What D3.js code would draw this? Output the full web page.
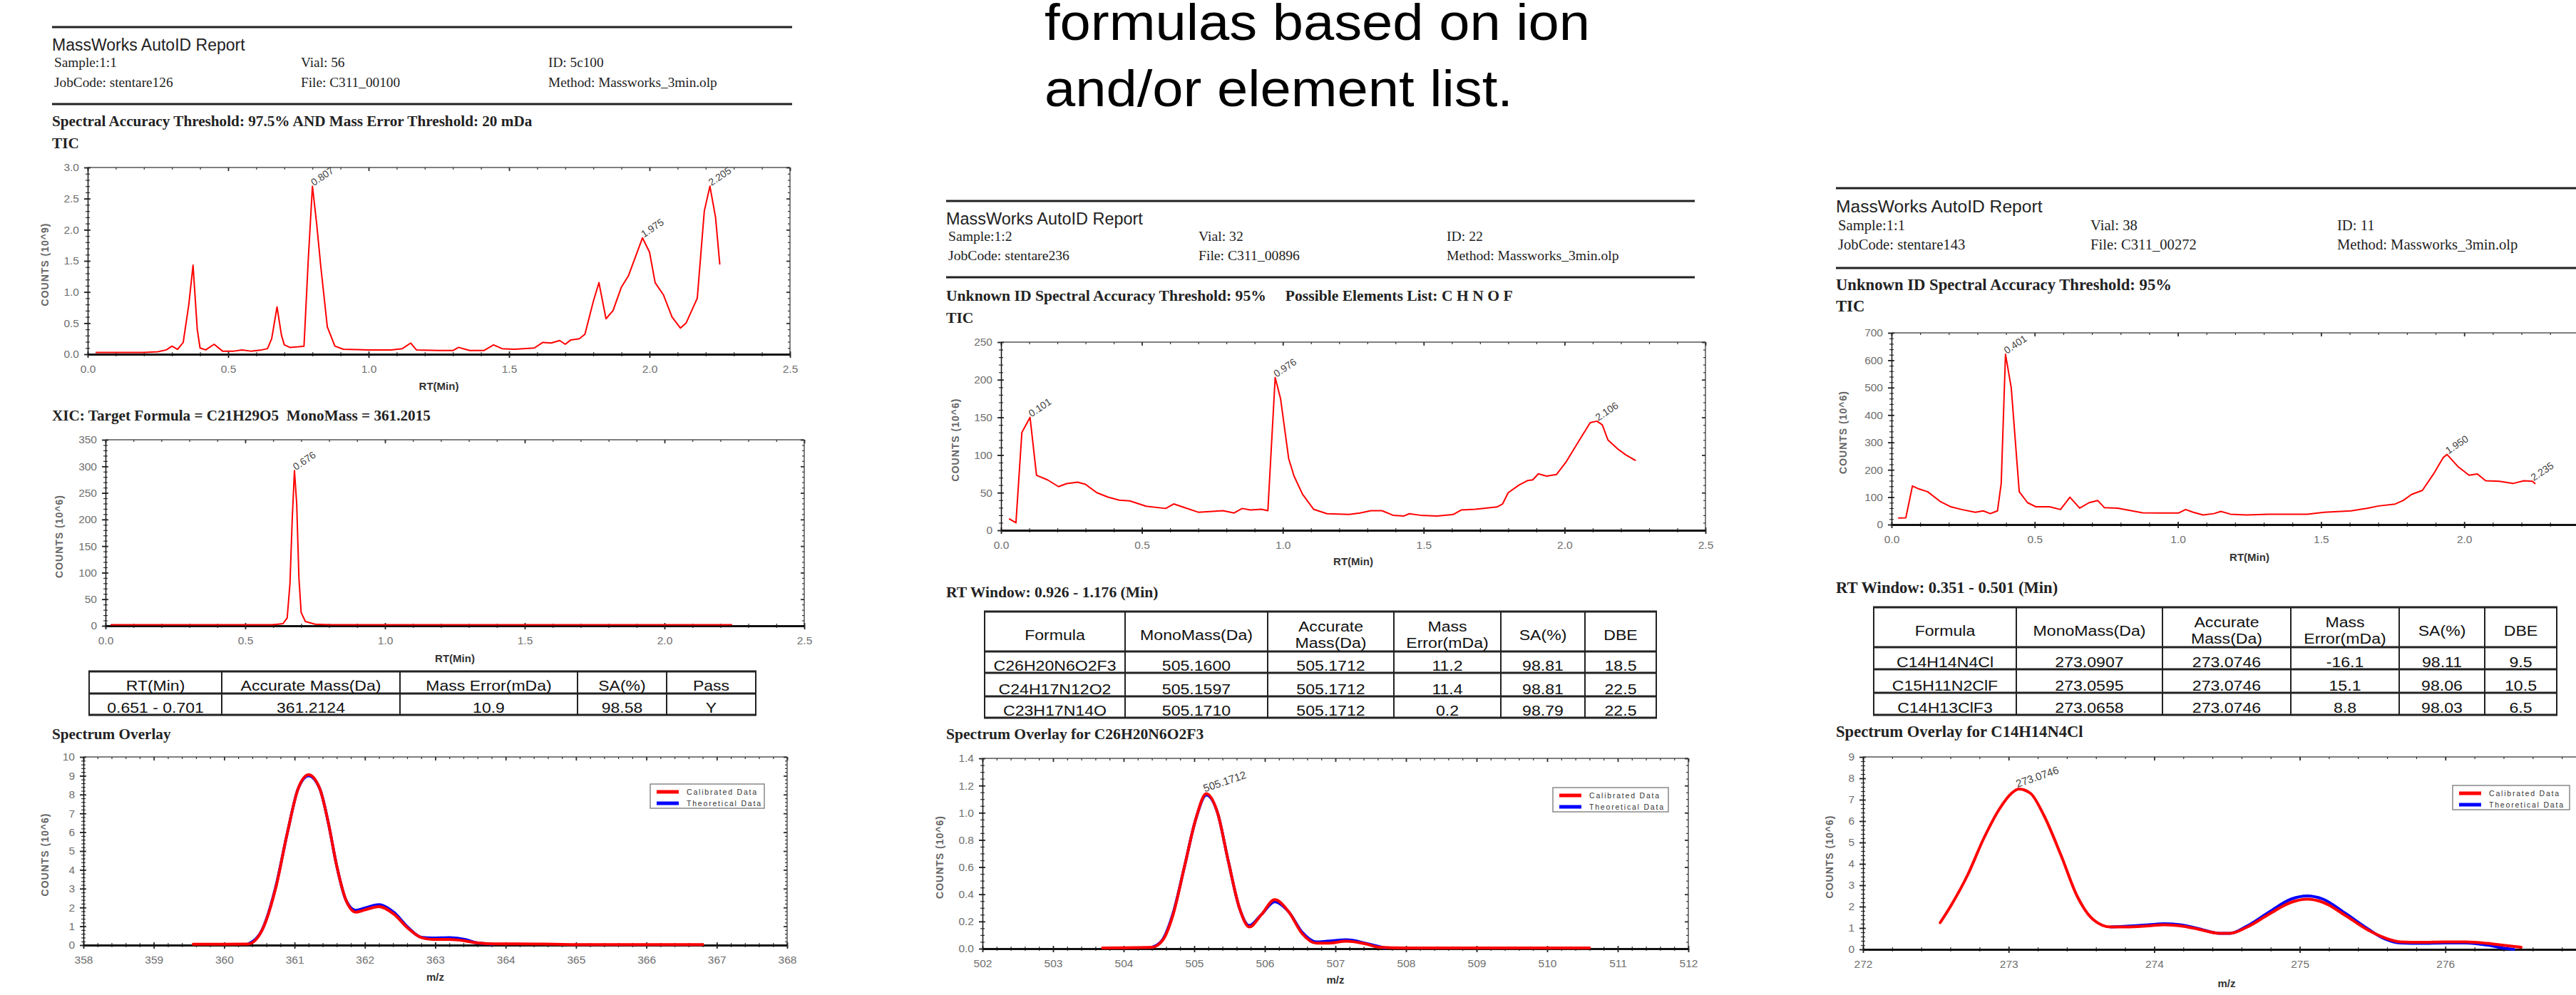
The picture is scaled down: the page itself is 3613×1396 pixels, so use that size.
<!DOCTYPE html>
<html lang="en">
<head>
<meta charset="utf-8">
<script src="https://d3js.org/d3.v7.min.js"></script>
<style>
  body { margin: 0; background: #fff; }
  svg { display: block; }
</style>
</head>
<body>
<div id="graph"></div>
<script>

// ---------- values ----------

// left report: TIC (RT min, counts 10^9)
const ticLeft = [[0.03,0.03],[0.10,0.03],[0.20,0.03],[0.25,0.04],[0.28,0.07],[0.30,0.13],[0.32,0.08],[0.34,0.19],
  [0.36,0.8],[0.375,1.43],[0.39,0.4],[0.40,0.1],[0.42,0.07],[0.45,0.16],[0.48,0.05],[0.52,0.05],[0.55,0.07],
  [0.58,0.05],[0.62,0.07],[0.64,0.09],[0.655,0.25],[0.674,0.76],[0.69,0.3],[0.70,0.15],[0.72,0.11],[0.75,0.12],
  [0.77,0.13],[0.785,1.5],[0.80,2.7],[0.815,2.1],[0.83,1.4],[0.853,0.44],[0.88,0.13],[0.91,0.08],[1.0,0.07],
  [1.08,0.07],[1.12,0.09],[1.15,0.18],[1.17,0.07],[1.25,0.06],[1.30,0.06],[1.32,0.11],[1.36,0.06],[1.41,0.06],
  [1.445,0.15],[1.475,0.09],[1.52,0.08],[1.59,0.1],[1.62,0.19],[1.65,0.18],[1.68,0.22],[1.70,0.16],[1.72,0.23],
  [1.75,0.25],[1.77,0.32],[1.80,0.85],[1.82,1.15],[1.845,0.57],[1.87,0.7],[1.90,1.08],[1.925,1.26],[1.975,1.87],
  [2.0,1.64],[2.02,1.15],[2.05,0.95],[2.08,0.6],[2.11,0.42],[2.13,0.5],[2.17,0.9],[2.195,2.3],[2.215,2.7],
  [2.235,2.2],[2.25,1.45]];
const ticLeftPeaks = [[0.80,2.7,"0.807"],[1.975,1.87,"1.975"],[2.215,2.7,"2.205"]];

// left report: XIC (RT min, counts 10^6)
const xicLeft = [[0.02,2],[0.3,2],[0.6,2],[0.635,4],[0.65,15],[0.66,80],[0.668,200],[0.676,292],[0.684,230],
  [0.692,90],[0.70,25],[0.715,8],[0.75,3],[0.8,2],[1.5,2],[2.24,2]];
const xicLeftPeaks = [[0.676,292,"0.676"]];

// left report: results table
const tableLeftHead = [["RT(Min)"],["Accurate Mass(Da)"],["Mass Error(mDa)"],["SA(%)"],["Pass"]];
const tableLeftRows = [["0.651 - 0.701","361.2124","10.9","98.58","Y"]];

// left report: spectrum overlay (m/z, counts 10^6)
const specLeftCal = [[359.56,0.05],[360.0,0.05],[360.34,0.06],[360.54,0.8],[360.73,3.0],[360.9,6.0],[361.05,8.3],
  [361.2,9.05],[361.36,8.3],[361.48,6.5],[361.6,4.2],[361.73,2.4],[361.87,1.75],[361.98,1.85],[362.2,2.05],
  [362.41,1.65],[362.61,0.9],[362.8,0.4],[362.96,0.3],[363.2,0.3],[363.43,0.22],[363.59,0.12],[363.82,0.07],
  [364.45,0.06],[365.0,0.03],[366.0,0.03],[366.8,0.03]];
const specLeftTheo = [[360.34,0.06],[360.54,0.82],[360.73,3.05],[360.9,6.0],[361.05,8.3],[361.2,9.0],[361.36,8.3],
  [361.48,6.5],[361.6,4.2],[361.73,2.4],[361.87,1.85],[361.98,1.95],[362.2,2.15],[362.41,1.75],[362.61,0.95],
  [362.8,0.42],[362.96,0.38],[363.2,0.4],[363.43,0.3],[363.59,0.12],[363.82,0.05]];

// middle report: TIC
const ticMid = [[0.03,15],[0.053,10],[0.074,130],[0.103,150],[0.126,73],[0.165,67],[0.204,58],[0.233,62],[0.272,64],
  [0.30,61],[0.34,50],[0.38,44],[0.42,40],[0.457,39],[0.515,32],[0.584,29],[0.613,35],[0.652,30],[0.70,24],
  [0.749,25],[0.788,26],[0.827,23],[0.856,29],[0.885,27],[0.924,28],[0.947,26],[0.973,203],[0.992,175],
  [1.021,95],[1.04,72],[1.07,48],[1.109,28],[1.157,22],[1.235,21],[1.274,23],[1.313,26],[1.352,26],[1.391,20],
  [1.43,19],[1.449,22],[1.488,20],[1.547,19],[1.605,21],[1.634,27],[1.683,28],[1.76,31],[1.78,35],[1.80,50],
  [1.838,60],[1.868,66],[1.887,67],[1.907,75],[1.936,72],[1.971,74],[2.004,90],[2.053,120],[2.091,143],
  [2.115,145],[2.134,140],[2.154,120],[2.189,108],[2.218,100],[2.251,93]];
const ticMidPeaks = [[0.103,150,"0.101"],[0.973,203,"0.976"],[2.115,145,"2.106"]];

const tableMidHead = [["Formula"],["MonoMass(Da)"],["Accurate","Mass(Da)"],["Mass","Error(mDa)"],["SA(%)"],["DBE"]];
const tableMidRows = [
  ["C26H20N6O2F3","505.1600","505.1712","11.2","98.81","18.5"],
  ["C24H17N12O2","505.1597","505.1712","11.4","98.81","22.5"],
  ["C23H17N14O","505.1710","505.1712","0.2","98.79","22.5"]];

const specMidCal = [[503.7,0.005],[504.4,0.01],[504.55,0.06],[504.7,0.25],[504.86,0.6],[505.02,0.95],[505.17,1.14],
  [505.33,1.0],[505.48,0.65],[505.64,0.3],[505.78,0.16],[505.95,0.25],[506.14,0.36],[506.34,0.27],[506.53,0.11],
  [506.73,0.04],[506.88,0.04],[507.16,0.055],[507.43,0.035],[507.62,0.01],[508.0,0.005],[509.0,0.005],[510.6,0.005]];
const specMidTheo = [[504.4,0.01],[504.55,0.065],[504.7,0.26],[504.86,0.6],[505.02,0.95],[505.17,1.13],[505.33,1.0],
  [505.48,0.65],[505.64,0.3],[505.78,0.17],[505.95,0.25],[506.14,0.345],[506.34,0.27],[506.53,0.12],[506.73,0.05],
  [506.88,0.055],[507.16,0.065],[507.43,0.04],[507.7,0.005]];
const specMidPeaks = [[505.17,1.14,"505.1712"]];

// right report: TIC
const ticRight = [[0.025,24],[0.05,25],[0.073,141],[0.096,130],[0.126,120],[0.169,85],[0.207,65],[0.245,55],
  [0.293,45],[0.32,50],[0.345,40],[0.37,50],[0.383,150],[0.398,622],[0.418,500],[0.446,120],[0.475,80],
  [0.504,65],[0.552,65],[0.59,55],[0.623,100],[0.657,60],[0.69,80],[0.72,88],[0.743,62],[0.79,60],[0.83,52],
  [0.877,43],[0.935,42],[1.002,42],[1.027,55],[1.054,45],[1.088,35],[1.126,40],[1.15,48],[1.184,38],[1.24,35],
  [1.318,38],[1.452,38],[1.51,45],[1.605,50],[1.663,60],[1.701,68],[1.759,75],[1.787,88],[1.816,110],
  [1.854,125],[1.893,185],[1.927,245],[1.94,256],[1.98,210],[2.017,180],[2.046,185],[2.075,160],[2.123,158],
  [2.17,150],[2.209,160],[2.238,158],[2.247,150]];
const ticRightPeaks = [[0.398,622,"0.401"],[1.94,256,"1.950"],[2.238,158,"2.235"]];

const tableRightHead = tableMidHead;
const tableRightRows = [
  ["C14H14N4Cl","273.0907","273.0746","-16.1","98.11","9.5"],
  ["C15H11N2ClF","273.0595","273.0746","15.1","98.06","10.5"],
  ["C14H13ClF3","273.0658","273.0746","8.8","98.03","6.5"]];

const specRightCal = [[272.53,1.25],[272.6,2.0],[272.72,3.5],[272.83,5.2],[272.94,6.6],[273.02,7.3],[273.07,7.5],
  [273.15,7.3],[273.24,6.3],[273.36,4.4],[273.47,2.5],[273.58,1.4],[273.7,1.05],[273.81,1.05],[273.96,1.1],
  [274.07,1.15],[274.18,1.1],[274.3,0.95],[274.45,0.75],[274.52,0.75],[274.64,1.05],[274.79,1.65],[274.94,2.2],
  [275.05,2.35],[275.16,2.2],[275.31,1.6],[275.47,0.9],[275.58,0.55],[275.69,0.35],[275.84,0.33],[275.99,0.35],
  [276.14,0.35],[276.29,0.28],[276.41,0.18],[276.52,0.1]];
const specRightTheo = [[273.7,1.05],[273.81,1.08],[273.96,1.15],[274.07,1.2],[274.18,1.15],[274.3,0.98],[274.45,0.75],
  [274.52,0.75],[274.64,1.1],[274.79,1.75],[274.94,2.35],[275.05,2.5],[275.16,2.35],[275.31,1.7],[275.47,0.95],
  [275.58,0.5],[275.69,0.3],[275.84,0.28],[275.99,0.3],[276.14,0.3],[276.29,0.2],[276.41,0.05],[276.47,0.0]];
const specRightPeaks = [[273.07,7.5,"273.0746"]];

// report header texts
const infoLeft  = ["Sample:1:1","Vial: 56","ID: 5c100","JobCode: stentare126","File: C311_00100","Method: Massworks_3min.olp"];
const infoMid   = ["Sample:1:2","Vial: 32","ID: 22","JobCode: stentare236","File: C311_00896","Method: Massworks_3min.olp"];
const infoRight = ["Sample:1:1","Vial: 38","ID: 11","JobCode: stentare143","File: C311_00272","Method: Massworks_3min.olp"];
const slideText = ["formulas based on ion", "and/or element list."];
const legendNames = ["Calibrated Data", "Theoretical Data"];

// ---------- drawing ----------
const W = 3613, H = 1396;
const SANS = "'Liberation Sans', Arial, sans-serif";
const SERIF = "'Liberation Serif', 'Times New Roman', serif";
const RED = "#ff0000", BLUE = "#0000ff";

const svg = d3.select("#graph").append("svg").attr("width", W).attr("height", H);
svg.append("rect").attr("width", W).attr("height", H).attr("fill", "#fff");

function txt(x, y, s, size, o = {}) {
  return svg.append("text")
    .attr("transform", `translate(${x},${y}) rotate(${o.rot || 0}) scale(${o.sx || 1},1)`)
    .attr("font-family", o.family || SANS)
    .attr("font-size", size)
    .attr("font-weight", o.weight || "normal")
    .attr("fill", o.fill || "#111")
    .attr("text-anchor", o.anchor || "start")
    .attr("letter-spacing", o.ls || 0)
    .style("white-space", "pre")
    .text(s);
}

function hrule(x1, x2, y, w) {
  svg.append("line").attr("x1", x1).attr("x2", x2).attr("y1", y).attr("y2", y)
    .attr("stroke", "#222").attr("stroke-width", w);
}

// slide text at the top of the middle column (first line is cut by the top edge, as in the source)
slideText.forEach((s, i) => txt(1465, 56 + i * 93, s, 72, {sx: 1.08, fill: "#000"}));

// report headers
const heads = [
  {x: 73, s: 1.0, end: 1111, r1: 38, r2: 146, c2: 422, c3: 769, yRep: 71, ySam: 94, yJob: 122, yTit: 177, yTic: 208,
   info: infoLeft, title: "Spectral Accuracy Threshold: 97.5% AND Mass Error Threshold: 20 mDa"},
  {x: 1327, s: 1.02, end: 2377, r1: 282, r2: 389, c2: 1681, c3: 2029, yRep: 315, ySam: 338, yJob: 365, yTit: 422, yTic: 453,
   info: infoMid, title: "Unknown ID Spectral Accuracy Threshold: 95%\u00a0\u00a0\u00a0\u00a0 Possible Elements List: C H N O F"},
  {x: 2575, s: 1.07, end: W, r1: 264, r2: 376, c2: 2932, c3: 3278, yRep: 298, ySam: 323, yJob: 350, yTit: 407, yTic: 437,
   info: infoRight, title: "Unknown ID Spectral Accuracy Threshold: 95%"}
];
heads.forEach(h => {
  hrule(h.x, h.end, h.r1, 3);
  hrule(h.x, h.end, h.r2, 3);
  txt(h.x, h.yRep, "MassWorks AutoID Report", 23 * h.s, {fill: "#222"});
  const cols = [h.x + 3, h.c2, h.c3];
  h.info.forEach((s, i) => txt(cols[i % 3], i < 3 ? h.ySam : h.yJob, s, 19.3 * h.s, {family: SERIF, fill: "#222"}));
  txt(h.x, h.yTit, h.title, 21.2 * h.s, {family: SERIF, weight: "bold", fill: "#222"});
  txt(h.x, h.yTic, "TIC", 21.2 * h.s, {family: SERIF, weight: "bold", fill: "#222"});
});
txt(73, 590, "XIC: Target Formula = C21H29O5\u00a0 MonoMass = 361.2015", 21.2, {family: SERIF, weight: "bold", fill: "#222"});
txt(73, 1037, "Spectrum Overlay", 21.2, {family: SERIF, weight: "bold", fill: "#222"});
txt(1327, 838, "RT Window: 0.926 - 1.176 (Min)", 21.6, {family: SERIF, weight: "bold", fill: "#222"});
txt(1327, 1037, "Spectrum Overlay for C26H20N6O2F3", 21.6, {family: SERIF, weight: "bold", fill: "#222"});
txt(2575, 832, "RT Window: 0.351 - 0.501 (Min)", 22.6, {family: SERIF, weight: "bold", fill: "#222"});
txt(2575, 1034, "Spectrum Overlay for C14H14N4Cl", 22.6, {family: SERIF, weight: "bold", fill: "#222"});

// small tick rows (no labels)
function tickRow(g, make, scale, vals, size, tx, ty, w) {
  g.append("g").attr("transform", `translate(${tx},${ty})`)
    .call(make(scale).tickValues(vals).tickSize(size).tickFormat(""))
    .call(a => a.select(".domain").remove())
    .selectAll("line").attr("stroke", "#333").attr("stroke-width", w);
}

function drawChart(c) {
  const x = d3.scaleLinear().domain(c.xd).range(c.xr);
  const y = d3.scaleLinear().domain(c.yd).range(c.yr);
  const [xl, xr] = c.xr, [yb, yt] = c.yr;
  const e = 1e-9;
  const xMajor = d3.range(c.xd[0], c.xd[1] + e, c.xMaj);
  const xMinor = d3.range(c.xd[0], c.xd[1] + e, c.xMin);
  const yMajor = d3.range(c.yd[0], c.yd[1] + e, c.yMaj);
  const yMinor = d3.range(c.yd[0], c.yd[1] + e, c.yMin);
  // labelled x ticks only where the page shows them (the right report runs off the edge)
  const xLabelled = xMajor.filter(v => x(v) + 12 < W);
  const g = svg.append("g");

  // top and right edges of the box
  g.append("line").attr("x1", xl).attr("x2", xr).attr("y1", yt).attr("y2", yt).attr("stroke", "#555").attr("stroke-width", 1.5);
  g.append("line").attr("x1", xr).attr("x2", xr).attr("y1", yt).attr("y2", yb).attr("stroke", "#555").attr("stroke-width", 1.5);

  tickRow(g, d3.axisTop, x, xMinor, -3, 0, yt, 1.2);
  tickRow(g, d3.axisTop, x, xMajor, -5, 0, yt, 1.8);
  tickRow(g, d3.axisRight, y, yMinor, -3, xr, 0, 1.2);
  tickRow(g, d3.axisRight, y, yMajor, -5, xr, 0, 1.8);
  tickRow(g, d3.axisBottom, x, xMinor, 3, 0, yb, 1.2);
  tickRow(g, d3.axisTop, x, xMinor, 3, 0, yb, 1.2);
  tickRow(g, d3.axisTop, x, xMajor, 4, 0, yb, 1.8);
  tickRow(g, d3.axisLeft, y, yMinor, 3, xl, 0, 1.2);
  tickRow(g, d3.axisRight, y, yMinor, 3, xl, 0, 1.2);
  tickRow(g, d3.axisRight, y, yMajor, 4, xl, 0, 1.8);

  const ax = g.append("g").attr("transform", `translate(0,${yb})`)
    .call(d3.axisBottom(x).tickValues(xLabelled).tickFormat(d3.format(c.xFmt))
      .tickSizeInner(5).tickSizeOuter(0).tickPadding(10));
  ax.select(".domain").attr("stroke", "#111").attr("stroke-width", 3);
  const ay = g.append("g").attr("transform", `translate(${xl},0)`)
    .call(d3.axisLeft(y).tickValues(yMajor).tickFormat(d3.format(c.yFmt))
      .tickSizeInner(5).tickSizeOuter(0).tickPadding(7));
  ay.select(".domain").attr("stroke", "#111").attr("stroke-width", 1.5);
  [ax, ay].forEach(a => {
    a.selectAll(".tick line").attr("stroke", "#222").attr("stroke-width", 1.8);
    a.selectAll("text").attr("font-family", SANS).attr("font-size", 15.5).attr("fill", "#6f6f6f");
  });

  // axis titles
  txt((xl + Math.min(xr, W)) / 2 + (c.xTitleShift || 0), c.xTitleY, c.xTitle, 15, {weight: "bold", fill: "#333", anchor: "middle"});
  txt(c.yTitleX, (yb + yt) / 2 + 5, c.yTitle, 14, {weight: "bold", fill: "#666", anchor: "middle", rot: -90, ls: 1});

  // traces
  const line = d3.line().x(d => x(d[0])).y(d => y(d[1]))
    .curve(c.smooth ? d3.curveMonotoneX : d3.curveLinear);
  c.series.forEach(s => {
    g.append("path").datum(s.data).attr("d", line)
      .attr("fill", "none").attr("stroke", s.color).attr("stroke-width", c.lw)
      .attr("stroke-linejoin", "round").attr("stroke-linecap", "round");
  });

  // peak labels
  (c.peaks || []).forEach(p => {
    txt(x(p[0]) + (c.smooth ? -2 : 2), y(p[1]) - (c.smooth ? 2 : 0), p[2], c.smooth ? 15 : 14,
      {fill: "#444", rot: c.smooth ? -19 : -34});
  });

  // legend
  if (c.legend) {
    const L = c.legend;
    svg.append("rect").attr("x", L.x).attr("y", L.y).attr("width", L.w).attr("height", 34)
      .attr("fill", "#fff").attr("stroke", "#888").attr("stroke-width", 1.5);
    [RED, BLUE].forEach((col, i) => {
      const ly = L.y + 11 + i * 16;
      svg.append("line").attr("x1", L.x + 9).attr("x2", L.x + 40).attr("y1", ly).attr("y2", ly)
        .attr("stroke", col).attr("stroke-width", 5);
      txt(L.x + 51, ly + 4, legendNames[i], 10.5, {fill: "#333", ls: 1.8});
    });
  }
}

const ticSeries = d => [{data: d, color: RED}];
const specSeries = (cal, theo) => [{data: theo, color: BLUE}, {data: cal, color: RED}];

const charts = [
  {series: ticSeries(ticLeft), peaks: ticLeftPeaks, xd: [0, 2.5], xr: [123, 1108], yd: [0, 3], yr: [497, 235],
   xMaj: 0.5, xMin: 0.1, yMaj: 0.5, yMin: 0.1, xFmt: ".1f", yFmt: ".1f", lw: 2,
   xTitle: "RT(Min)", xTitleY: 547, yTitle: "COUNTS (10^9)", yTitleX: 68},
  {series: ticSeries(xicLeft), peaks: xicLeftPeaks, xd: [0, 2.5], xr: [148, 1128], yd: [0, 350], yr: [878, 617],
   xMaj: 0.5, xMin: 0.1, yMaj: 50, yMin: 10, xFmt: ".1f", yFmt: "d", lw: 2,
   xTitle: "RT(Min)", xTitleY: 929, yTitle: "COUNTS (10^6)", yTitleX: 88},
  {series: specSeries(specLeftCal, specLeftTheo), smooth: true, xd: [358, 368], xr: [117, 1104], yd: [0, 10], yr: [1326, 1062],
   xMaj: 1, xMin: 0.2, yMaj: 1, yMin: 0.2, xFmt: "d", yFmt: "d", lw: 4,
   xTitle: "m/z", xTitleY: 1376, yTitle: "COUNTS (10^6)", yTitleX: 68, legend: {x: 912, y: 1100, w: 160}},
  {series: ticSeries(ticMid), peaks: ticMidPeaks, xd: [0, 2.5], xr: [1404, 2392], yd: [0, 250], yr: [744, 480],
   xMaj: 0.5, xMin: 0.1, yMaj: 50, yMin: 10, xFmt: ".1f", yFmt: "d", lw: 2,
   xTitle: "RT(Min)", xTitleY: 793, yTitle: "COUNTS (10^6)", yTitleX: 1345},
  {series: specSeries(specMidCal, specMidTheo), peaks: specMidPeaks, smooth: true, xd: [502, 512], xr: [1378, 2368],
   yd: [0, 1.4], yr: [1331, 1064], xMaj: 1, xMin: 0.2, yMaj: 0.2, yMin: 0.05, xFmt: "d", yFmt: ".1f", lw: 4,
   xTitle: "m/z", xTitleY: 1380, yTitle: "COUNTS (10^6)", yTitleX: 1323, legend: {x: 2178, y: 1105, w: 162}},
  {series: ticSeries(ticRight), peaks: ticRightPeaks, xd: [0, 2.5], xr: [2653, 3657], yd: [0, 700], yr: [736, 467],
   xMaj: 0.5, xMin: 0.1, yMaj: 100, yMin: 20, xFmt: ".1f", yFmt: "d", lw: 2,
   xTitle: "RT(Min)", xTitleY: 787, xTitleShift: 22, yTitle: "COUNTS (10^6)", yTitleX: 2590},
  {series: specSeries(specRightCal, specRightTheo), peaks: specRightPeaks, smooth: true, xd: [272, 277], xr: [2613, 3634],
   yd: [0, 9], yr: [1332, 1062], xMaj: 1, xMin: 0.2, yMaj: 1, yMin: 0.2, xFmt: "d", yFmt: "d", lw: 4,
   xTitle: "m/z", xTitleY: 1385, xTitleShift: 10, yTitle: "COUNTS (10^6)", yTitleX: 2571, legend: {x: 3440, y: 1102, w: 164}}
];
charts.forEach(drawChart);

// tables
function drawTable(t) {
  const g = svg.append("g");
  const x0 = t.cols[0], x1 = t.cols[t.cols.length - 1];
  const y0 = t.rows[0], y1 = t.rows[t.rows.length - 1];
  g.selectAll(".h").data(t.rows).enter().append("line")
    .attr("x1", x0 - 1).attr("x2", x1 + 1).attr("y1", d => d).attr("y2", d => d)
    .attr("stroke", "#222").attr("stroke-width", 3);
  g.selectAll(".v").data(t.cols).enter().append("line")
    .attr("x1", d => d).attr("x2", d => d).attr("y1", y0).attr("y2", y1)
    .attr("stroke", "#222").attr("stroke-width", 2);
  const mid = i => (t.cols[i] + t.cols[i + 1]) / 2;
  const hc = (t.rows[0] + t.rows[1]) / 2 + 0.36 * t.fs + 4;
  t.head.forEach((lines, i) => {
    if (lines.length === 1) txt(mid(i), hc, lines[0], t.fs, {anchor: "middle", sx: t.sx, fill: "#111"});
    else lines.forEach((s, k) => txt(mid(i), hc + (k === 0 ? -11.5 : 11.5), s, t.fs, {anchor: "middle", sx: t.sx, fill: "#111"}));
  });
  t.body.forEach((row, r) => {
    row.forEach((s, i) => txt(mid(i), t.rows[r + 2] - 3, s, t.fs, {anchor: "middle", sx: t.sx, fill: "#111"}));
  });
}
drawTable({cols: [125, 311, 561, 810, 935, 1060], rows: [942, 973, 1003], head: tableLeftHead, body: tableLeftRows, fs: 20, sx: 1.15});
drawTable({cols: [1381, 1578, 1778, 1955, 2105, 2223, 2323], rows: [858, 914, 944, 977, 1007], head: tableMidHead, body: tableMidRows, fs: 21, sx: 1.1});
drawTable({cols: [2628, 2828, 3033, 3213, 3365, 3485, 3586], rows: [852, 908, 939, 972, 1003], head: tableRightHead, body: tableRightRows, fs: 21, sx: 1.1});

</script>
</body>
</html>
